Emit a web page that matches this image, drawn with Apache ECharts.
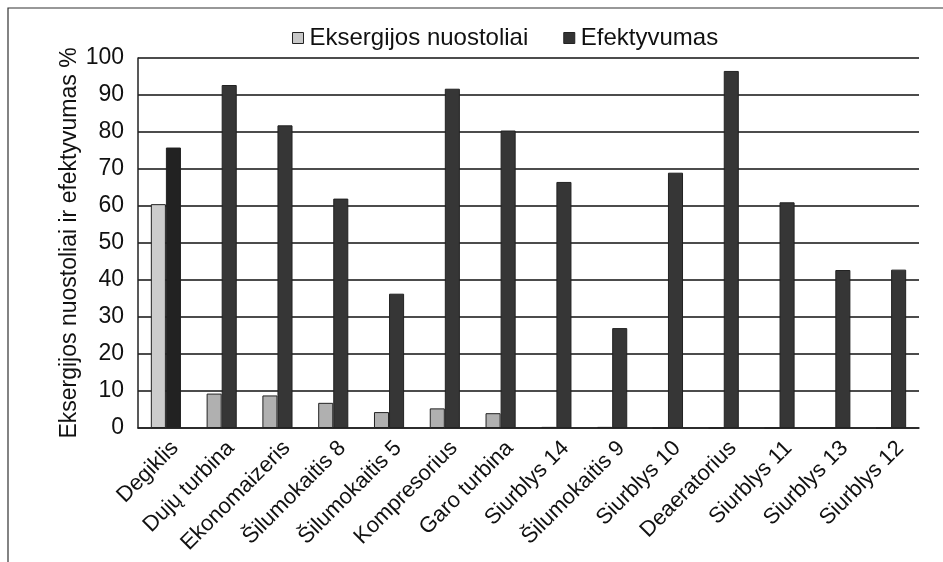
<!DOCTYPE html>
<html>
<head>
<meta charset="utf-8">
<script src="https://cdn.jsdelivr.net/npm/echarts@6/dist/echarts.min.js"></script>
<style>
html, body { margin: 0; padding: 0; background: #fff; }
#chart { width: 943px; height: 562px; }
</style>
</head>
<body>
<div id="chart"></div>
<script>
var categories = ['Degiklis', 'Dujų turbina', 'Ekonomaizeris', 'Šilumokaitis 8', 'Šilumokaitis 5', 'Kompresorius', 'Garo turbina', 'Siurblys 14', 'Šilumokaitis 9', 'Siurblys 10', 'Deaeratorius', 'Siurblys 11', 'Siurblys 13', 'Siurblys 12'];
var nuostoliai = [60.5, 9.3, 8.8, 6.8, 4.3, 5.3, 4.0, 0.3, 0.3, 0, 0, 0, 0, 0];
var efektyvumas = [75.8, 92.7, 81.8, 62.0, 36.3, 91.7, 80.4, 66.5, 27.0, 69.0, 96.5, 61.0, 42.7, 42.8];
var yTicks = [0, 10, 20, 30, 40, 50, 60, 70, 80, 90, 100];

var font = 'Liberation Sans, Arial, sans-serif';
var myChart = echarts.init(document.getElementById('chart'));

// pirmas stulpelis (Degiklis) nuspalvintas kitaip
function colored(arr, first, rest) {
    return arr.map(function (v, i) {
        return { value: v, itemStyle: { color: i === 0 ? first : rest } };
    });
}

var option = {
    backgroundColor: '#fff',
    animation: false,
    graphic: [{
        type: 'rect',
        shape: { x: 8, y: 8, width: 940, height: 560 },
        style: { fill: 'none', stroke: '#333', lineWidth: 1.2 },
        silent: true
    }],
    legend: {
        top: 21,
        left: 287,
        itemWidth: 11,
        itemHeight: 11,
        itemGap: 35,
        icon: 'rect',
        textStyle: { fontFamily: font, fontSize: 24, color: '#111', padding: [0, 0, 0, 1] },
        data: [
            { name: 'Eksergijos nuostoliai', itemStyle: { color: '#c8c8c8', borderColor: '#222', borderWidth: 1 } },
            { name: 'Efektyvumas', itemStyle: { color: '#333', borderColor: '#222', borderWidth: 1 } }
        ]
    },
    grid: { left: 138, right: 24, top: 58, bottom: 134, containLabel: false },
    xAxis: {
        type: 'category',
        data: categories,
        axisLine: { lineStyle: { color: '#222', width: 1.5 } },
        axisTick: { show: false },
        axisLabel: {
            rotate: 45,
            interval: 0,
            margin: 26,
            padding: [0, -13, 0, 0],
            fontFamily: font,
            fontSize: 22,
            color: '#111'
        }
    },
    yAxis: {
        type: 'value',
        min: 0,
        max: 100,
        interval: 10,
        name: 'Eksergijos nuostoliai ir efektyvumas %',
        nameLocation: 'middle',
        nameGap: 57,
        nameMoveOverlap: false,
        nameTextStyle: { fontFamily: font, fontSize: 23, color: '#111' },
        axisLine: { show: true, lineStyle: { color: '#222', width: 1.5 } },
        axisTick: { show: false },
        axisLabel: {
            margin: 14,
            fontFamily: font,
            fontSize: 23,
            color: '#111',
            formatter: function (v) { return yTicks.indexOf(v) >= 0 ? v : ''; }
        },
        splitLine: { show: true, lineStyle: { color: '#111', width: 1.5 } }
    },
    series: [
        {
            name: 'Eksergijos nuostoliai',
            type: 'bar',
            data: colored(nuostoliai, '#cccccc', '#b0b0b0'),
            barGap: '0%',
            barCategoryGap: '46%',
            itemStyle: { color: '#b0b0b0', borderColor: '#222', borderWidth: 1 }
        },
        {
            name: 'Efektyvumas',
            type: 'bar',
            data: colored(efektyvumas, '#222222', '#363636'),
            itemStyle: { color: '#363636', borderColor: '#222', borderWidth: 1 }
        }
    ]
};
myChart.setOption(option);
</script>
</body>
</html>
